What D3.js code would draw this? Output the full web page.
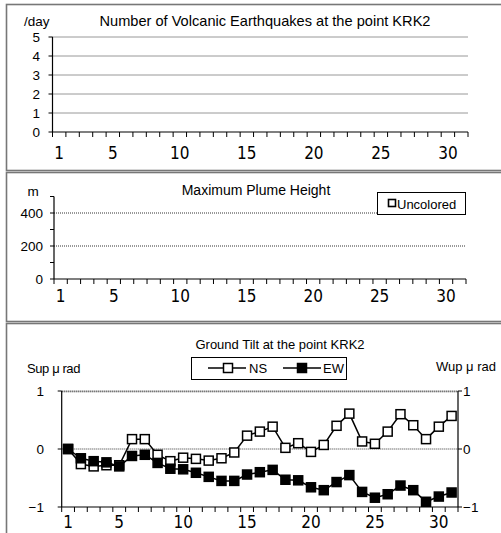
<!DOCTYPE html>
<html><head><meta charset="utf-8">
<script src="https://cdn.jsdelivr.net/npm/d3@7"></script>
<style>
body{margin:0;background:#fff;}
text{font-family:"Liberation Sans",Arial,sans-serif;fill:#000;}
.xl{font-family:"Liberation Sans Narrow","DejaVu Sans Condensed","Arial Narrow",sans-serif;font-size:17px;}
</style></head><body>
<script>
const days = [1,2,3,4,5,6,7,8,9,10,11,12,13,14,15,16,17,18,19,20,21,22,23,24,25,26,27,28,29,30,31];
const dayLabels = [1,5,10,15,20,25,30];
const quakeTicks = [0,1,2,3,4,5];
const quakes = [];           // no volcanic earthquakes recorded
const plumeTicks = [0,200,400];
const plumeMinor = [100,300,500];
const plume = [];            // no plume observed
const tiltTicks = [-1,0,1];
const ns = [0,-0.26,-0.30,-0.28,-0.28,0.17,0.17,-0.10,-0.21,-0.15,-0.17,-0.20,-0.16,-0.06,0.23,0.30,0.385,0.02,0.10,-0.05,0.07,0.40,0.61,0.13,0.09,0.30,0.60,0.41,0.17,0.385,0.57];
const ew = [0,-0.16,-0.21,-0.23,-0.30,-0.12,-0.10,-0.24,-0.34,-0.35,-0.41,-0.48,-0.55,-0.55,-0.44,-0.40,-0.36,-0.53,-0.54,-0.66,-0.71,-0.57,-0.45,-0.74,-0.84,-0.78,-0.63,-0.71,-0.91,-0.82,-0.75];

const W=501,H=533;
const svg=d3.select("body").append("svg").attr("width",W).attr("height",H);

function frame(y0,y1){
  svg.append("rect").attr("x",6.5).attr("y",y0).attr("width",W+10).attr("height",y1-y0)
    .attr("fill","none").attr("stroke","#777").attr("stroke-width",1.6);
}
frame(4.5,170.5);
frame(172.5,321.5);
frame(323.5,H+10);

function xAxis(x0,x1,yAxis,labelY){
  const x=d3.scaleBand().domain(days).range([x0,x1]).paddingInner(0).paddingOuter(0);
  const bounds=days.map(d=>x(d)).concat([x1]);
  const g=svg.append("g");
  g.append("line").attr("x1",x0).attr("x2",x1).attr("y1",yAxis).attr("y2",yAxis).attr("stroke","#000").attr("stroke-width",1.2);
  g.selectAll("line.t").data(bounds).join("line").attr("class","t")
    .attr("x1",d=>d).attr("x2",d=>d).attr("y1",yAxis).attr("y2",yAxis+5).attr("stroke","#000").attr("stroke-width",1);
  g.selectAll("text").data(dayLabels).join("text").attr("class","xl")
    .attr("x",d=>x(d)+x.bandwidth()/2).attr("y",labelY).attr("text-anchor","middle").attr("dominant-baseline","central").text(d=>d);
  return x;
}
function grid(x0,x1,yy){
  svg.append("line").attr("x1",x0).attr("x2",x1).attr("y1",yy).attr("y2",yy)
    .attr("stroke","#333").attr("stroke-width",1).attr("stroke-dasharray","1,1");
}

// ---------- Panel 1 ----------
{
  const x0=52.5,x1=468;
  const y=d3.scaleLinear().domain([0,5]).range([132,37]);
  quakeTicks.filter(v=>v>0).forEach(v=>grid(x0,x1,y(v)));
  svg.append("line").attr("x1",x0).attr("x2",x0).attr("y1",y(5)).attr("y2",y(0)).attr("stroke","#000").attr("stroke-width",1.2);
  svg.selectAll("line.p1t").data(quakeTicks).join("line").attr("class","p1t")
    .attr("x1",x0-4).attr("x2",x0).attr("y1",d=>y(d)).attr("y2",d=>y(d)).attr("stroke","#000");
  svg.selectAll("text.p1y").data(quakeTicks).join("text").attr("class","p1y")
    .attr("x",40).attr("y",d=>y(d)).attr("text-anchor","end").attr("dominant-baseline","central").style("font-size","13.5px").text(d=>d);
  const x=xAxis(x0,x1,y(0),153);
  svg.selectAll("rect.q").data(quakes).join("rect").attr("class","q")
    .attr("x",(d,i)=>x(days[i])).attr("width",x.bandwidth()).attr("y",d=>y(d)).attr("height",d=>y(0)-y(d)).attr("fill","#000");
  svg.append("text").attr("x",24).attr("y",21).attr("dominant-baseline","central").style("font-size","13.5px").text("/day");
  svg.append("text").attr("x",265).attr("y",21).attr("text-anchor","middle").attr("dominant-baseline","central").style("font-size","14.6px").text("Number of Volcanic Earthquakes at the point KRK2");
}

// ---------- Panel 2 ----------
{
  const x0=54,x1=466;
  const y=d3.scaleLinear().domain([0,500]).range([279,196.5]);
  plumeTicks.filter(v=>v>0).forEach(v=>grid(x0,x1,y(v)));
  svg.append("line").attr("x1",x0).attr("x2",x0).attr("y1",y(500)).attr("y2",y(0)).attr("stroke","#000").attr("stroke-width",1.2);
  svg.selectAll("line.p2t").data(plumeTicks.concat(plumeMinor)).join("line").attr("class","p2t")
    .attr("x1",x0-4).attr("x2",x0).attr("y1",d=>y(d)).attr("y2",d=>y(d)).attr("stroke","#000");
  svg.selectAll("text.p2y").data(plumeTicks).join("text").attr("class","p2y")
    .attr("x",43).attr("y",d=>y(d)).attr("text-anchor","end").attr("dominant-baseline","central").style("font-size","13.5px").text(d=>d);
  const x=xAxis(x0,x1,y(0),296);
  svg.selectAll("rect.pl").data(plume).join("rect").attr("class","pl")
    .attr("x",(d,i)=>x(days[i])).attr("width",x.bandwidth()).attr("y",d=>y(d)).attr("height",d=>y(0)-y(d)).attr("fill","#fff").attr("stroke","#000");
  svg.append("text").attr("x",33).attr("y",191).attr("text-anchor","middle").attr("dominant-baseline","central").style("font-size","13.5px").text("m");
  svg.append("text").attr("x",256).attr("y",190).attr("text-anchor","middle").attr("dominant-baseline","central").style("font-size","14px").text("Maximum Plume Height");
  svg.append("rect").attr("x",377.5).attr("y",192.5).attr("width",88).attr("height",22).attr("fill","#fff").attr("stroke","#000");
  svg.append("rect").attr("x",388.5).attr("y",199.5).attr("width",7).attr("height",7).attr("fill","#fff").attr("stroke","#000").attr("stroke-width",1.6);
  svg.append("text").attr("x",397).attr("y",204).attr("dominant-baseline","central").style("font-size","13px").text("Uncolored");
}

// ---------- Panel 3 ----------
{
  const x0=61.7,x1=458;
  const y=d3.scaleLinear().domain([-1,1]).range([507,391]);
  grid(x0,x1,y(1)); grid(x0,x1,y(1)+0.8); grid(x0,x1,y(0));
  svg.append("line").attr("x1",x0).attr("x2",x0).attr("y1",y(1)).attr("y2",y(-1)).attr("stroke","#000").attr("stroke-width",1.2);
  svg.append("line").attr("x1",x1).attr("x2",x1).attr("y1",y(1)).attr("y2",y(-1)).attr("stroke","#000").attr("stroke-width",1.2);
  svg.selectAll("line.p3l").data(tiltTicks).join("line").attr("class","p3l")
    .attr("x1",x0-4).attr("x2",x0).attr("y1",d=>y(d)).attr("y2",d=>y(d)).attr("stroke","#000");
  svg.selectAll("line.p3r").data(tiltTicks).join("line").attr("class","p3r")
    .attr("x1",x1).attr("x2",x1+4).attr("y1",d=>y(d)).attr("y2",d=>y(d)).attr("stroke","#000");
  const fmt=d=>d<0?"\u2212"+Math.abs(d):String(d);
  svg.selectAll("text.p3y").data(tiltTicks).join("text").attr("class","p3y")
    .attr("x",44).attr("y",d=>y(d)).attr("text-anchor","end").attr("dominant-baseline","central").style("font-size","13.5px").text(fmt);
  svg.selectAll("text.p3r").data(tiltTicks).join("text").attr("class","p3r")
    .attr("x",463).attr("y",d=>y(d)).attr("dominant-baseline","central").style("font-size","13.5px").text(fmt);
  const x=xAxis(x0,x1,y(-1),522);
  const cx=(i)=>x(days[i])+x.bandwidth()/2;
  const line=d3.line().x((d,i)=>cx(i)).y(d=>y(d));
  svg.append("path").datum(ns).attr("d",line).attr("fill","none").attr("stroke","#000").attr("stroke-width",1.5);
  svg.selectAll("rect.ns").data(ns).join("rect").attr("class","ns")
    .attr("x",(d,i)=>cx(i)-4.5).attr("y",d=>y(d)-4.5).attr("width",9).attr("height",9)
    .attr("fill","#fff").attr("stroke","#000").attr("stroke-width",1.5);
  svg.append("path").datum(ew).attr("d",line).attr("fill","none").attr("stroke","#000").attr("stroke-width",1.5);
  svg.selectAll("rect.ew").data(ew).join("rect").attr("class","ew")
    .attr("x",(d,i)=>cx(i)-4.5).attr("y",d=>y(d)-4.5).attr("width",9).attr("height",9)
    .attr("fill","#000").attr("stroke","#000").attr("stroke-width",1.5);
  svg.append("text").attr("x",280).attr("y",344).attr("text-anchor","middle").attr("dominant-baseline","central").style("font-size","13px").text("Ground Tilt at the point KRK2");
  svg.append("text").attr("x",27).attr("y",368).attr("dominant-baseline","central").style("font-size","13px").style("letter-spacing","-0.4px").text("Sup \u03bc rad");
  svg.append("text").attr("x",436).attr("y",366).attr("dominant-baseline","central").style("font-size","13px").text("Wup \u03bc rad");
  const ly=368;
  svg.append("rect").attr("x",191.5).attr("y",357.5).attr("width",155).attr("height",22).attr("fill","#fff").attr("stroke","#000");
  svg.append("line").attr("x1",208).attr("x2",246).attr("y1",ly).attr("y2",ly).attr("stroke","#000").attr("stroke-width",1.5);
  svg.append("rect").attr("x",223.5).attr("y",ly-4.5).attr("width",9).attr("height",9).attr("fill","#fff").attr("stroke","#000").attr("stroke-width",1.5);
  svg.append("text").attr("x",249).attr("y",ly).attr("dominant-baseline","central").style("font-size","13px").text("NS");
  svg.append("line").attr("x1",283).attr("x2",321).attr("y1",ly).attr("y2",ly).attr("stroke","#000").attr("stroke-width",1.5);
  svg.append("rect").attr("x",297.5).attr("y",ly-4.5).attr("width",9).attr("height",9).attr("fill","#000").attr("stroke","#000").attr("stroke-width",1.5);
  svg.append("text").attr("x",323).attr("y",ly).attr("dominant-baseline","central").style("font-size","13px").text("EW");
}
</script>
</body></html>
